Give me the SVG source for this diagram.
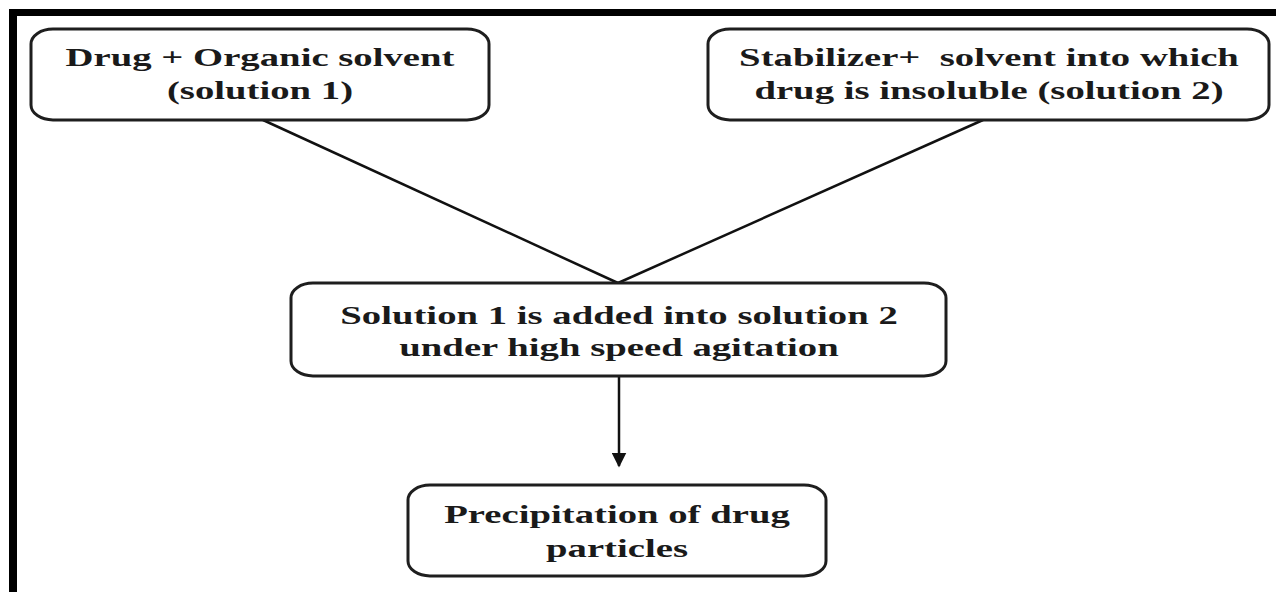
<svg xmlns="http://www.w3.org/2000/svg" width="1276" height="592" viewBox="0 0 1276 592">
  <style>
    .box { fill: #ffffff; stroke: #1e1e1e; stroke-width: 3; }
    .lbl { font-family: "Liberation Serif", "Times New Roman", serif; font-weight: bold; font-size: 26px; fill: #1a1a1a; text-anchor: middle; }
    .conn { stroke: #111111; stroke-width: 2.5; fill: none; }
    .frame { fill: #000000; }
  </style>
  <defs>
    <marker id="arrow" viewBox="0 0 10 10" refX="9" refY="5" markerWidth="6" markerHeight="6" markerUnits="strokeWidth" orient="auto">
      <path d="M0,0 L10,5 L0,10 Z" fill="#111111"/>
    </marker>
  </defs>
  <rect width="1276" height="592" fill="#ffffff"/>
  <g id="frame">
    <rect class="frame" x="9" y="9" width="1267" height="7"/>
    <rect class="frame" x="9" y="9" width="8" height="583"/>
  </g>
  <g id="connectors">
    <line class="conn" x1="263" y1="120" x2="618" y2="283"/>
    <line class="conn" x1="983" y1="120" x2="618" y2="283"/>
    <line class="conn" x1="619" y1="376" x2="619" y2="466" marker-end="url(#arrow)"/>
  </g>
  <g id="node-solution1">
    <rect class="box" x="31" y="29" width="458" height="91" rx="22" ry="15"/>
    <text class="lbl" transform="translate(260,66) scale(1.49,1)">Drug + Organic solvent</text>
    <text class="lbl" transform="translate(260,99) scale(1.49,1)">(solution 1)</text>
  </g>
  <g id="node-solution2">
    <rect class="box" x="708" y="29" width="561" height="91" rx="22" ry="15"/>
    <text class="lbl" transform="translate(989,66) scale(1.49,1)">Stabilizer+ &#160;solvent into which</text>
    <text class="lbl" transform="translate(989,99) scale(1.49,1)">drug is insoluble (solution 2)</text>
  </g>
  <g id="node-mixing">
    <rect class="box" x="291" y="283" width="655" height="93" rx="22" ry="15"/>
    <text class="lbl" transform="translate(619,324) scale(1.49,1)">Solution 1 is added into solution 2</text>
    <text class="lbl" transform="translate(619,356) scale(1.49,1)">under high speed agitation</text>
  </g>
  <g id="node-precipitation">
    <rect class="box" x="408" y="485" width="418" height="91" rx="22" ry="15"/>
    <text class="lbl" transform="translate(617,523) scale(1.49,1)">Precipitation of drug</text>
    <text class="lbl" transform="translate(617,557) scale(1.49,1)">particles</text>
  </g>
</svg>
